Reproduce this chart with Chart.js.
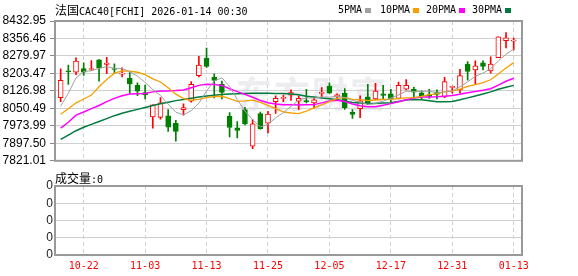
<!DOCTYPE html>
<html>
<head>
<meta charset="utf-8">
<script src="https://cdn.jsdelivr.net/npm/chart.js@4"></script>
<style>
body { margin: 0; width: 578px; height: 276px; overflow: hidden; position: relative; background: #fff; }
canvas { position: absolute; left: 0; }
#main { top: 0; }
#vol { top: 172px; }
.t { position: absolute; font-family: "DejaVu Sans Mono", monospace; font-size: 10px; line-height: 14px; color: #000; white-space: pre; }
.cjk { font-family: "Noto Sans CJK SC"; font-size: 12px; }
.sq { position: absolute; width: 6px; height: 5px; }
.wm { position: absolute; left: 236px; top: 66px; font-family: "Noto Sans CJK SC"; font-weight: bold; font-size: 36px; letter-spacing: 2px; color: #ececf1; }
</style>
</head>
<body>
<div class="wm">东方财富</div>
<canvas id="main" width="578" height="172"></canvas>
<canvas id="vol" width="578" height="104"></canvas>

<div class="t" style="left:55px;top:3px"><span class="cjk">法国</span>CAC40[FCHI] 2026-01-14 00:30</div>
<div class="t" style="left:338px;top:3px">5PMA</div>
<div class="sq" style="left:365px;top:8px;background:#a0a0a0"></div>
<div class="t" style="left:380px;top:3px">10PMA</div>
<div class="sq" style="left:413px;top:8px;background:#f5a000"></div>
<div class="t" style="left:426px;top:3px">20PMA</div>
<div class="sq" style="left:459px;top:8px;background:#ff00ff"></div>
<div class="t" style="left:472px;top:3px">30PMA</div>
<div class="sq" style="left:505px;top:8px;background:#007a3d"></div>
<div class="t" style="left:55px;top:171px"><span class="cjk">成交量</span>:0</div>

<script>
// 交易日
const dates = ['10-17','10-20','10-21','10-22','10-23','10-24','10-27','10-28','10-29','10-30',
  '10-31','11-03','11-04','11-05','11-06','11-07','11-10','11-11','11-12','11-13',
  '11-14','11-17','11-18','11-19','11-20','11-21','11-24','11-25','11-26','11-27',
  '11-28','12-01','12-02','12-03','12-04','12-05','12-08','12-09','12-10','12-11',
  '12-12','12-15','12-16','12-17','12-18','12-19','12-22','12-23','12-24','12-29',
  '12-30','12-31','01-02','01-05','01-06','01-07','01-08','01-09','01-12','01-13'];
const xTickDates = ['10-22','11-03','11-13','11-25','12-05','12-17','12-31','01-13'];

// K线
const openPrices = [8097.2, 8213.2, 8209.0, 8224.7, 8220.5, 8263.0, 8243.0, 8223.4, 8200.5, 8182.2,
  8151.2, 8119.8, 8013.5, 8011.0, 8017.8, 7985.5, 8045.0, 8081.5, 8193.7, 8270.2,
  8186.5, 8155.5, 8016.5, 7965.5, 8045.0, 7884.8, 8028.0, 7985.5, 8080.2, 8094.3,
  8108.7, 8081.5, 8084.5, 8074.7, 8115.5, 8148.2, 8100.2, 8117.2, 8033.5, 8049.2,
  8101.5, 8091.7, 8114.2, 8114.2, 8094.3, 8134.2, 8134.2, 8118.5, 8111.3, 8122.7,
  8100.2, 8142.7, 8131.2, 8244.7, 8219.2, 8250.2, 8214.9, 8272.7, 8346.7, 8345.0];
const highPrices = [8223.4, 8240.4, 8271.5, 8250.2, 8260.0, 8264.0, 8274.4, 8246.0, 8227.7, 8207.7,
  8162.3, 8152.5, 8066.2, 8097.2, 8045.0, 7998.2, 8070.5, 8168.2, 8278.7, 8314.0,
  8202.2, 8169.5, 8032.2, 7992.3, 8054.7, 8001.6, 8034.8, 8037.7, 8105.7, 8108.7,
  8131.2, 8105.7, 8134.2, 8097.2, 8141.0, 8162.3, 8114.2, 8136.7, 8045.0, 8105.7,
  8155.5, 8159.7, 8151.2, 8134.2, 8165.2, 8176.7, 8144.0, 8127.0, 8134.2, 8131.2,
  8186.5, 8148.2, 8221.7, 8255.7, 8258.7, 8258.7, 8275.7, 8363.7, 8381.9, 8357.7];
const lowPrices = [8080.2, 8155.5, 8197.9, 8195.0, 8216.2, 8169.5, 8202.2, 8202.2, 8187.8, 8117.2,
  8105.7, 8091.7, 7964.2, 8003.7, 7949.8, 7907.3, 8020.7, 8077.3, 8187.8, 8230.2,
  8096.0, 8091.7, 7926.0, 7921.7, 7978.2, 7874.1, 7960.0, 7943.0, 8028.0, 8080.2,
  8085.8, 8045.0, 8074.7, 8051.8, 8100.2, 8115.5, 8094.3, 8046.2, 8006.7, 8009.3,
  8066.2, 8088.7, 8091.7, 8080.2, 8091.7, 8131.2, 8098.5, 8091.7, 8094.3, 8091.7,
  8097.2, 8117.2, 8117.2, 8173.7, 8155.5, 8219.2, 8204.7, 8272.7, 8315.2, 8306.7];
const closePrices = [8173.7, 8210.7, 8257.4, 8209.0, 8224.7, 8226.0, 8248.9, 8220.5, 8204.7, 8158.0,
  8125.7, 8110.0, 8066.2, 8074.7, 7968.5, 7949.8, 8053.5, 8155.5, 8240.4, 8234.5,
  8172.5, 8119.8, 7966.8, 7954.0, 7982.5, 7982.5, 7961.2, 8025.0, 8094.3, 8097.2,
  8119.8, 8094.3, 8079.0, 8087.5, 8121.5, 8117.2, 8110.0, 8053.5, 8023.7, 8083.2,
  8070.5, 8125.7, 8107.0, 8091.7, 8151.2, 8151.2, 8121.5, 8105.7, 8102.8, 8111.3,
  8168.2, 8147.0, 8193.7, 8212.0, 8236.2, 8234.5, 8244.7, 8363.7, 8359.4, 8348.0];

// 均线
const ma5 = [8060.2, 8117.2, 8183.5, 8212.0, 8215.1, 8225.6, 8233.2, 8225.8, 8225.0, 8211.6,
  8191.6, 8163.8, 8132.9, 8106.9, 8069.0, 8033.8, 8022.5, 8040.3, 8073.5, 8126.7,
  8171.2, 8184.5, 8146.8, 8089.5, 8039.1, 8001.1, 7969.4, 7981.0, 8009.1, 8032.0,
  8059.5, 8086.1, 8096.9, 8095.5, 8100.3, 8099.8, 8103.0, 8097.9, 8085.1, 8077.5,
  8068.1, 8071.3, 8082.0, 8095.6, 8109.2, 8125.3, 8124.5, 8124.2, 8126.4, 8118.5,
  8121.9, 8127.0, 8144.5, 8166.4, 8191.4, 8204.6, 8224.2, 8258.2, 8287.7, 8310.0];
const ma10 = [8024.9, 8049.2, 8074.7, 8091.7, 8108.7, 8145.2, 8176.7, 8204.7, 8214.9, 8213.4,
  8208.6, 8198.5, 8179.4, 8165.9, 8140.3, 8112.7, 8093.1, 8086.6, 8090.2, 8097.8,
  8102.5, 8103.5, 8093.5, 8081.5, 8082.9, 8086.2, 8076.9, 8063.9, 8049.3, 8035.5,
  8030.3, 8027.7, 8038.9, 8052.3, 8066.2, 8079.7, 8094.5, 8097.4, 8090.3, 8088.9,
  8084.0, 8087.1, 8089.9, 8090.4, 8093.3, 8096.7, 8097.9, 8103.1, 8111.0, 8113.8,
  8123.6, 8125.7, 8134.4, 8146.4, 8154.9, 8163.2, 8175.6, 8201.4, 8227.0, 8250.7];
const ma20 = [7964.2, 7989.7, 8020.7, 8034.7, 8049.2, 8063.2, 8080.2, 8094.2, 8105.7, 8112.9,
  8114.2, 8115.5, 8122.7, 8127.0, 8127.0, 8128.2, 8131.2, 8141.0, 8151.2, 8155.6,
  8155.5, 8151.0, 8136.4, 8123.7, 8111.6, 8099.4, 8085.0, 8075.2, 8069.7, 8066.7,
  8066.4, 8065.6, 8066.2, 8066.9, 8074.5, 8082.9, 8085.7, 8080.6, 8069.8, 8062.2,
  8057.1, 8057.4, 8064.4, 8071.3, 8079.8, 8088.2, 8096.2, 8100.2, 8100.6, 8101.4,
  8103.8, 8106.4, 8112.2, 8118.4, 8124.1, 8130.0, 8136.7, 8152.2, 8169.0, 8182.2];
const ma30 = [7914.4, 7933.6, 7952.7, 7967.6, 7980.3, 7993.1, 8005.8, 8018.6, 8029.2, 8037.7,
  8046.2, 8054.7, 8063.2, 8070.4, 8077.6, 8084.4, 8089.5, 8095.1, 8100.2, 8104.4,
  8107.8, 8110.8, 8112.9, 8114.6, 8115.9, 8116.7, 8117.2, 8116.7, 8115.9, 8115.6,
  8113.8, 8109.9, 8104.0, 8099.9, 8096.4, 8092.8, 8088.2, 8082.6, 8076.6, 8074.1,
  8072.3, 8072.8, 8074.1, 8074.7, 8080.8, 8087.5, 8089.8, 8088.1, 8083.5, 8079.4,
  8079.3, 8080.2, 8087.8, 8096.4, 8104.8, 8113.2, 8122.7, 8134.0, 8142.8, 8151.1];

const yTicks = [7821.01, 7897.50, 7973.99, 8050.49, 8126.98, 8203.47, 8279.97, 8356.46, 8432.95];

// 成交量 (指数无成交量)
const volume = [0,0,0,0,0,0,0,0,0,0, 0,0,0,0,0,0,0,0,0,0, 0,0,0,0,0,0,0,0,0,0,
  0,0,0,0,0,0,0,0,0,0, 0,0,0,0,0,0,0,0,0,0, 0,0,0,0,0,0,0,0,0,0];
const volTickLabels = ['0', '0', '0', '0', '0'];

const UP = '#ff0000', DOWN = '#008000';
const isUp = closePrices.map((c, i) => c >= openPrices[i]);

// 画边框
const borderBox = {
  id: 'borderBox',
  afterDatasetsDraw(chart) {
    const { ctx, chartArea: a } = chart;
    ctx.save();
    ctx.strokeStyle = '#999';
    ctx.lineWidth = 2;
    ctx.strokeRect(a.left, a.top, a.right - a.left, a.bottom - a.top);
    ctx.restore();
  }
};

function xAxis(showLabels) {
  return {
    type: 'linear', min: -0.737, max: 60.08, offset: false,
    afterBuildTicks: s => { s.ticks = xTickDates.map(d => ({ value: dates.indexOf(d) })); },
    afterFit: s => { s.height = showLabels ? 21 : 0; },
    ticks: {
      display: showLabels, color: '#ff0000', padding: 5, maxRotation: 0, autoSkip: false,
      font: { family: 'DejaVu Sans Mono', size: 10 },
      callback: v => dates[v]
    },
    grid: { color: '#d0d0d0', drawTicks: false, offset: false },
    border: { display: false, dash: [4, 3] }
  };
}

const line = (data, color, w) => ({
  type: 'line', data: data.map((v, i) => ({ x: i, y: v })),
  borderColor: color, borderWidth: w, pointRadius: 0, tension: 0, order: 0
});

new Chart(document.getElementById('main'), {
  type: 'bar',
  data: {
    datasets: [
      line(ma5, '#a0a0a0', 1),
      line(ma10, '#f5a000', 1.3),
      line(ma20, '#ff00ff', 1.5),
      line(ma30, '#007a3d', 1.5),
      {
        data: dates.map((d, i) => ({ x: i, y: [openPrices[i], closePrices[i]] })),
        backgroundColor: isUp.map(u => u ? '#ffffff' : DOWN),
        borderColor: isUp.map(u => u ? UP : DOWN),
        borderWidth: 1, borderSkipped: false, barThickness: 5, minBarLength: 1,
        grouped: false, order: 1
      },
      {
        data: dates.map((d, i) => ({ x: i, y: [lowPrices[i], highPrices[i]] })),
        backgroundColor: isUp.map(u => u ? UP : DOWN),
        barThickness: 1, grouped: false, order: 2
      }
    ]
  },
  options: {
    responsive: false, animation: false,
    layout: { padding: { left: 0, right: 56, top: 21, bottom: 7 } },
    plugins: { legend: { display: false }, tooltip: { enabled: false } },
    scales: {
      x: xAxis(false),
      y: {
        min: yTicks[0], max: yTicks[yTicks.length - 1],
        afterBuildTicks: s => { s.ticks = yTicks.map(v => ({ value: v })); },
        afterFit: s => { s.width = 55; },
        ticks: { color: '#000', padding: 4, autoSkip: false, font: { family: 'Liberation Sans', size: 12 }, callback: v => v.toFixed(2) },
        grid: { color: '#d0d0d0', tickLength: 5, tickColor: '#888' },
        border: { display: false }
      }
    }
  },
  plugins: [borderBox]
});

new Chart(document.getElementById('vol'), {
  type: 'bar',
  data: {
    datasets: [{
      data: volume.map((v, i) => ({ x: i, y: v })),
      backgroundColor: DOWN, barThickness: 5, inflateAmount: 0
    }]
  },
  options: {
    responsive: false, animation: false,
    layout: { padding: { left: 0, right: 56, top: 14, bottom: 0 } },
    plugins: { legend: { display: false }, tooltip: { enabled: false } },
    scales: {
      x: xAxis(true),
      y: {
        min: 0, max: volTickLabels.length - 1,
        afterBuildTicks: s => { s.ticks = volTickLabels.map((t, i) => ({ value: i })); },
        afterFit: s => { s.width = 55; },
        ticks: {
          color: '#222', padding: 2, autoSkip: false,
          font: { family: 'Liberation Sans', size: 12 },
          callback: (v, i) => volTickLabels[i]
        },
        grid: { color: '#d0d0d0', drawTicks: false },
        border: { display: false }
      }
    }
  },
  plugins: [borderBox]
});
</script>
</body>
</html>
